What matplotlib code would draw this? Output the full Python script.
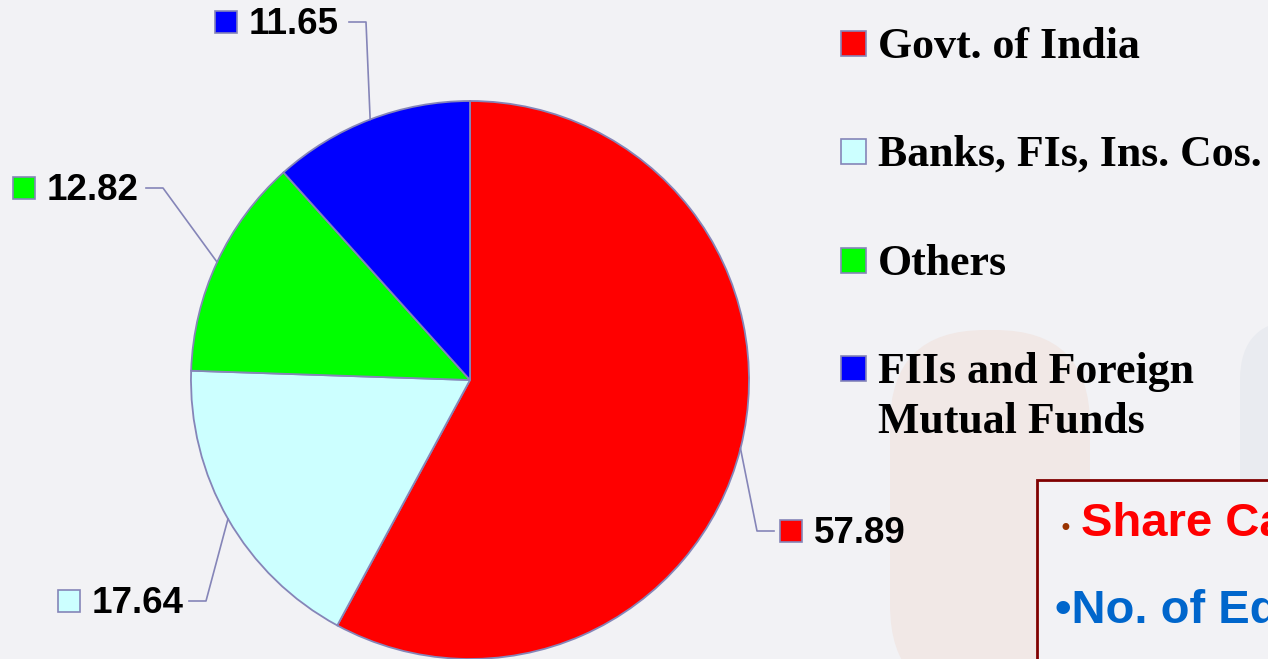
import numpy as np
import matplotlib.pyplot as plt
from matplotlib.patches import Rectangle, FancyBboxPatch

# Shareholding pattern (%)
categories = ['Govt. of India', 'Banks, FIs, Ins. Cos.', 'Others', 'FIIs and Foreign\nMutual Funds']
shares = [57.89, 17.64, 12.82, 11.65]
share_labels = ['57.89', '17.64', '12.82', '11.65']
colors = ['#ff0000', '#ccffff', '#00ff00', '#0000ff']

W, H = 1268, 659
bg = '#f2f2f5'
edge = '#8585b8'

def py(y):
    # pixel row (from top) -> data y
    return H - y

fig = plt.figure(figsize=(W / 100, H / 100), dpi=100, facecolor=bg)
ax = fig.add_axes([0, 0, 1, 1])
ax.set_facecolor(bg)

# faint background decoration
ax.add_patch(FancyBboxPatch((890, py(700)), 200, 370, boxstyle='round,pad=0,rounding_size=95',
                            facecolor='#f1e8e6', edgecolor='none', zorder=0))
ax.add_patch(FancyBboxPatch((1240, py(700)), 120, 380, boxstyle='round,pad=0,rounding_size=60',
                            facecolor='#e9ebf0', edgecolor='none', zorder=0))

cx, cy, r = 470, 380, 279
wedges, _ = ax.pie(shares, colors=colors, startangle=90, counterclock=False,
                   center=(cx, py(cy)), radius=r,
                   wedgeprops=dict(edgecolor=edge, linewidth=1.3))

# data labels with leader lines: (elbow x, elbow y, side, square left x)
label_layout = [(757, 531, 'right', 780),
                (206, 601, 'left', 58),
                (163, 188, 'left', 13),
                (366, 22, 'left', 215)]

for w, lab, col, (ex, ey, side, sqx) in zip(wedges, share_labels, colors, label_layout):
    mid = np.deg2rad((w.theta1 + w.theta2) / 2)
    px_ = cx + r * np.cos(mid)
    py_ = cy - r * np.sin(mid)
    endx = ex + 17 if side == 'right' else ex - 17
    ax.plot([px_, ex, endx], [py(py_), py(ey), py(ey)], color=edge, lw=1.2)
    ax.add_patch(Rectangle((sqx, py(ey) - 11), 22, 22, facecolor=col,
                           edgecolor=edge, lw=1.2))
    ax.text(sqx + 34, py(ey + 12), lab, fontsize=26.5, fontweight='bold',
            family='Liberation Sans', ha='left', va='baseline', color='black')

# legend
leg_y = [43, 151, 260, 368]
for cat, col, ly in zip(categories, colors, leg_y):
    ax.add_patch(Rectangle((841, py(ly) - 12.5), 25, 25, facecolor=col,
                           edgecolor=edge, lw=1.2))
    for i, line in enumerate(cat.split('\n')):
        ax.text(878, py(ly + 15 + 50 * i), line, fontsize=31.6, fontweight='bold',
                family='Liberation Serif', ha='left', va='baseline', color='black')

# info box (cut off at the right edge)
ax.add_patch(Rectangle((1037, py(480) - 300), 400, 300, facecolor=bg,
                       edgecolor='#800000', lw=2))
ax.text(1059, py(536), '\u2022', fontsize=17, color='#993300', ha='left', va='baseline')
ax.text(1081, py(536), 'Share Capital', fontsize=34, fontweight='bold',
        family='Liberation Sans', color='#ff0000', ha='left', va='baseline')
ax.text(1055, py(623), '\u2022No. of Equity Shares', fontsize=34, fontweight='bold',
        family='Liberation Sans', color='#0066cc', ha='left', va='baseline')

ax.set_xlim(0, W)
ax.set_ylim(0, H)
ax.set_aspect('auto')
ax.axis('off')

fig.savefig('out.png', dpi=100, facecolor=bg)
